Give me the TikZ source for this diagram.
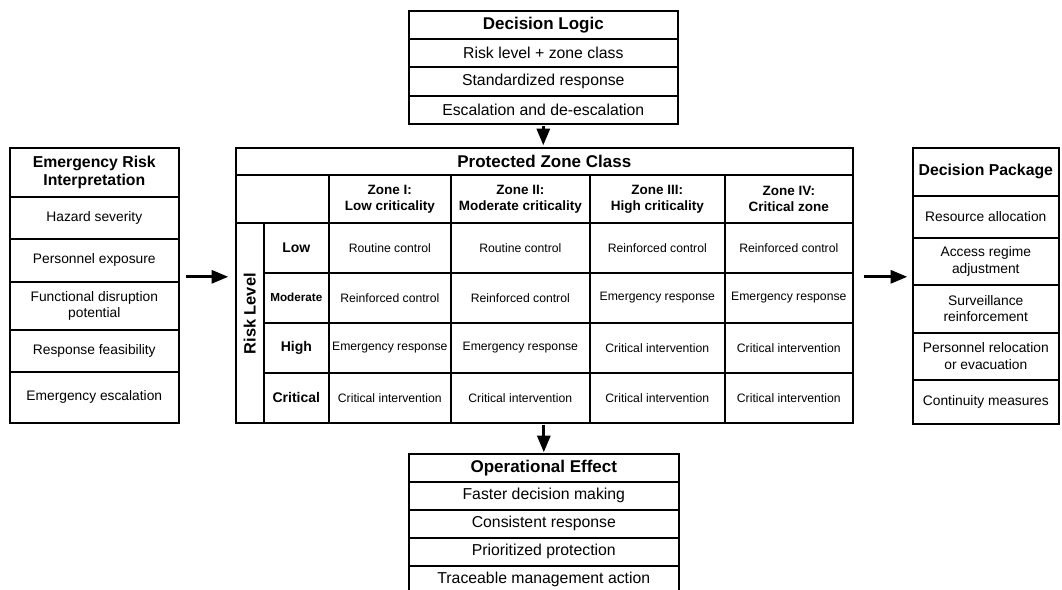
\documentclass[tikz,border=0pt]{standalone}
\usepackage{fontspec}
\setmainfont{Liberation Sans}
\usepackage{graphicx}
\usetikzlibrary{arrows}

\tikzset{
  cell/.style 2 args={draw, line width=1.6pt, minimum width=#1pt, minimum height=#2pt,
    inner sep=0pt, align=center, anchor=north west},
  headfont/.style={font=\bfseries\fontsize{17}{19}\selectfont},
  sidehead/.style={font=\bfseries\fontsize{15.8}{18.5}\selectfont},
  itemfont/.style={font=\fontsize{15.8}{18}\selectfont},
  sidefont/.style={font=\fontsize{13.8}{16.5}\selectfont},
  zonefont/.style={font=\bfseries\fontsize{13.5}{16}\selectfont},
  cellfont/.style={font=\fontsize{12.2}{15}\selectfont},
  levelfont/.style={font=\bfseries\fontsize{14}{16}\selectfont},
  riskfont/.style={font=\bfseries\fontsize{16.4}{18}\selectfont},
  flow/.style={-triangle 45, line width=2.9pt}
}

\begin{document}
\begin{tikzpicture}[x=1pt, y=-1pt]
	\path[use as bounding box] (0,0) rectangle (1062,589);
	\clip (0,0) rectangle (1062,589);

	% decision logic
	\node[cell={269}{28}, headfont] (logicHead) at (408,10) {Decision Logic};
	\node[cell={269}{28}, itemfont] (logicA) at (408,38) {Risk level + zone class};
	\node[cell={269}{29}, itemfont] (logicB) at (408,66) {Standardized response};
	\node[cell={269}{28}, itemfont] (logicC) at (408,95) {Escalation and de-escalation};

	% emergency risk interpretation
	\node[cell={169}{49}, sidehead] (riskHead) at (9,147) {Emergency Risk\\Interpretation};
	\node[cell={169}{42}, sidefont] (hazard) at (9,196) {Hazard severity};
	\node[cell={169}{43}, sidefont] (exposure) at (9,238) {Personnel exposure};
	\node[cell={169}{48}, sidefont] (disruption) at (9,281) {Functional disruption\\potential};
	\node[cell={169}{42}, sidefont] (feasibility) at (9,329) {Response feasibility};
	\node[cell={169}{51}, sidefont] (escalation) at (9,371) {Emergency escalation};

	% protected zone class matrix
	\node[cell={617}{27}, headfont] (zoneTitle) at (235,147) {Protected Zone Class};
	\node[cell={93}{48}] (corner) at (235,174) {};
	\node[cell={122}{48}, zonefont] (zoneI) at (328,174) {Zone I:\\Low criticality};
	\node[cell={139}{48}, zonefont] (zoneII) at (450,174) {Zone II:\\Moderate criticality};
	\node[cell={135}{48}, zonefont] (zoneIII) at (589,174) {Zone III:\\High criticality};
	\node[cell={128}{48}, zonefont] (zoneIV) at (724,174) {Zone IV:\\Critical zone};

	\node[cell={28}{200}, riskfont] (riskLevel) at (235,222) {\rotatebox{90}{\hspace{18pt}Risk Level}};
	\node[cell={65}{50}, levelfont] (lvLow) at (263,222) {Low};
	\node[cell={65}{50}, levelfont, font=\bfseries\fontsize{11.7}{14}\selectfont] (lvMod) at (263,272) {Moderate};
	\node[cell={65}{50}, levelfont] (lvHigh) at (263,322) {High};
	\node[cell={65}{50}, levelfont] (lvCrit) at (263,372) {Critical};

	\node[cell={122}{50}, cellfont] (low1) at (328,222) {Routine control};
	\node[cell={139}{50}, cellfont] (low2) at (450,222) {Routine control};
	\node[cell={135}{50}, cellfont] (low3) at (589,222) {Reinforced control};
	\node[cell={128}{50}, cellfont] (low4) at (724,222) {Reinforced control};

	\node[cell={122}{50}, cellfont] (mod1) at (328,272) {Reinforced control};
	\node[cell={139}{50}, cellfont] (mod2) at (450,272) {Reinforced control};
	\node[cell={135}{50}, cellfont] (mod3) at (589,272) {Emergency response};
	\node[cell={128}{50}, cellfont] (mod4) at (724,272) {Emergency response};

	\node[cell={122}{50}, cellfont] (high1) at (328,322) {Emergency response};
	\node[cell={139}{50}, cellfont] (high2) at (450,322) {Emergency response};
	\node[cell={135}{50}, cellfont] (high3) at (589,322) {Critical intervention};
	\node[cell={128}{50}, cellfont] (high4) at (724,322) {Critical intervention};

	\node[cell={122}{50}, cellfont] (crit1) at (328,372) {Critical intervention};
	\node[cell={139}{50}, cellfont] (crit2) at (450,372) {Critical intervention};
	\node[cell={135}{50}, cellfont] (crit3) at (589,372) {Critical intervention};
	\node[cell={128}{50}, cellfont] (crit4) at (724,372) {Critical intervention};

	% decision package
	\node[cell={146}{48}, sidehead] (packHead) at (912,147) {Decision Package};
	\node[cell={146}{42}, sidefont] (resource) at (912,195) {Resource allocation};
	\node[cell={146}{47}, sidefont] (access) at (912,237) {Access regime\\adjustment};
	\node[cell={146}{48}, sidefont] (surveil) at (912,284) {Surveillance\\reinforcement};
	\node[cell={146}{47}, sidefont] (relocate) at (912,332) {Personnel relocation\\or evacuation};
	\node[cell={146}{44}, sidefont] (continuity) at (912,379) {Continuity measures};

	% operational effect
	\node[cell={270}{28}, headfont] (effectHead) at (408,453) {Operational Effect};
	\node[cell={270}{28}, itemfont] (effectA) at (408,481) {Faster decision making};
	\node[cell={270}{28}, itemfont] (effectB) at (408,509) {Consistent response};
	\node[cell={270}{28}, itemfont] (effectC) at (408,537) {Prioritized protection};
	\node[cell={270}{28}, itemfont] (effectD) at (408,565) {Traceable management action};

	% arrows
	\draw[flow, shorten <=1pt, shorten >=2pt] (logicC.south) -- (logicC.south |- zoneTitle.north);
	\draw[flow, shorten <=1pt, shorten >=1pt] (effectHead.north |- crit2.south) -- (effectHead.north);
	\draw[flow, shorten <=6pt, shorten >=7pt, transform canvas={yshift=-16.5pt}] (exposure.east) -- (exposure.east -| riskLevel.west);
	\draw[flow, shorten <=10pt, shorten >=5pt, transform canvas={yshift=-15.5pt}] (access.west -| low4.east) -- (access.west);
\end{tikzpicture}
\end{document}
